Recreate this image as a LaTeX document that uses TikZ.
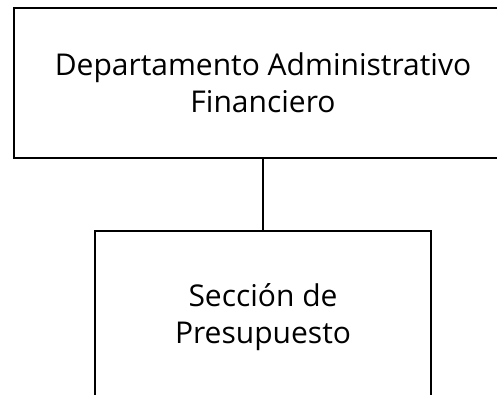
\documentclass[tikz,border=0pt]{standalone}
\usepackage{fontspec}
\setmainfont{Open Sans}
\usetikzlibrary{positioning}
\definecolor{cInk}{HTML}{000000}
\tikzset{
  every picture/.style={line width=2pt},
  orgbox/.style={draw=cInk, fill=white, align=center, inner sep=0pt, text=cInk,
                 font=\fontsize{30}{37}\selectfont},
  link/.style={draw=cInk},
}

\begin{document}
\begin{tikzpicture}[x=1pt,y=-1pt]

\useasboundingbox (0,0) rectangle (497,394);
\clip (0,0) rectangle (497,394);

% ---------------------------------------------------------------- the two units
\node[orgbox, minimum width=498pt, minimum height=150pt] (dept) at (263,83)
     {Departamento Administrativo\\ Financiero};
\node[orgbox, minimum width=336pt, minimum height=172pt, below=71pt of dept] (secc)
     {Sección de\\ Presupuesto};

% ---------------------------------------------------------------- the link
\draw[link] (dept.south) -- (secc.north);

\end{tikzpicture}
\end{document}
